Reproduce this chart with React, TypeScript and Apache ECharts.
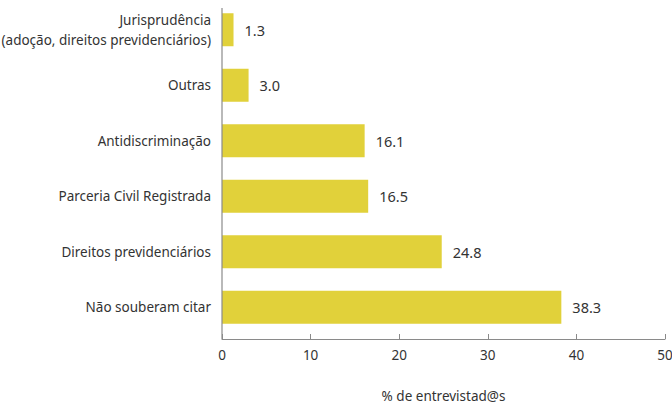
import React, { useEffect, useRef } from "react";
import * as echarts from "echarts";

const categories = [
  "Não souberam citar",
  "Direitos previdenciários",
  "Parceria Civil Registrada",
  "Antidiscriminação",
  "Outras",
  "Jurisprudência\n(adoção, direitos previdenciários)",
];
const values = [38.3, 24.8, 16.5, 16.1, 3.0, 1.3];
const xTicks = [0, 10, 20, 30, 40, 50];
const axisTitle = "% de entrevistad@s";

export default function App() {
  const ref = useRef<HTMLDivElement>(null);
  useEffect(() => {
    if (!ref.current) return;
    const chart = echarts.init(ref.current, null, { renderer: "svg" });
    const font = "'Noto Sans', sans-serif";
    chart.setOption({
      animation: false,
      grid: { left: 222, right: 7, top: 2, height: 333, outerBoundsMode: "none", containLabel: false },
      xAxis: {
        type: "value",
        min: xTicks[0],
        max: xTicks[xTicks.length - 1],
        interval: 10,
        offset: 4,
        axisLine: { show: true, lineStyle: { color: "#8a8a8a", width: 1 } },
        axisTick: { show: true, inside: true, length: 5, lineStyle: { color: "#8a8a8a" } },
        splitLine: { show: false },
        axisLabel: { color: "#333", fontSize: 13.5, fontFamily: font, margin: 9 },
        name: axisTitle,
        nameLocation: "middle",
        nameGap: 49,
        nameTextStyle: { color: "#333", fontSize: 13.5, fontFamily: font, lineHeight: 16 },
      },
      yAxis: {
        type: "category",
        data: categories,
        axisLine: { show: false },
        axisTick: { show: false },
        axisLabel: {
          color: "#333",
          fontSize: 13.5,
          fontFamily: font,
          margin: 11,
          align: "right",
          lineHeight: 20,
        },
      },
      graphic: [
        {
          type: "line",
          shape: { x1: 222, y1: 8, x2: 222, y2: 339 },
          style: { stroke: "#8a8a8a", lineWidth: 1.2 },
          z: 10,
        },
      ],
      series: [
        {
          type: "bar",
          data: values,
          barWidth: 33,
          itemStyle: { color: "#E1D13A" },
          label: {
            show: true,
            position: "right",
            distance: 11,
            formatter: (p: any) => Number(p.value).toFixed(1),
            color: "#333",
            fontSize: 14.5,
            fontFamily: font,
          },
        },
      ],
    });
    return () => chart.dispose();
  }, []);
  return <div ref={ref} style={{ width: 672, height: 405, position: "absolute", left: 0, top: 0 }} />;
}
